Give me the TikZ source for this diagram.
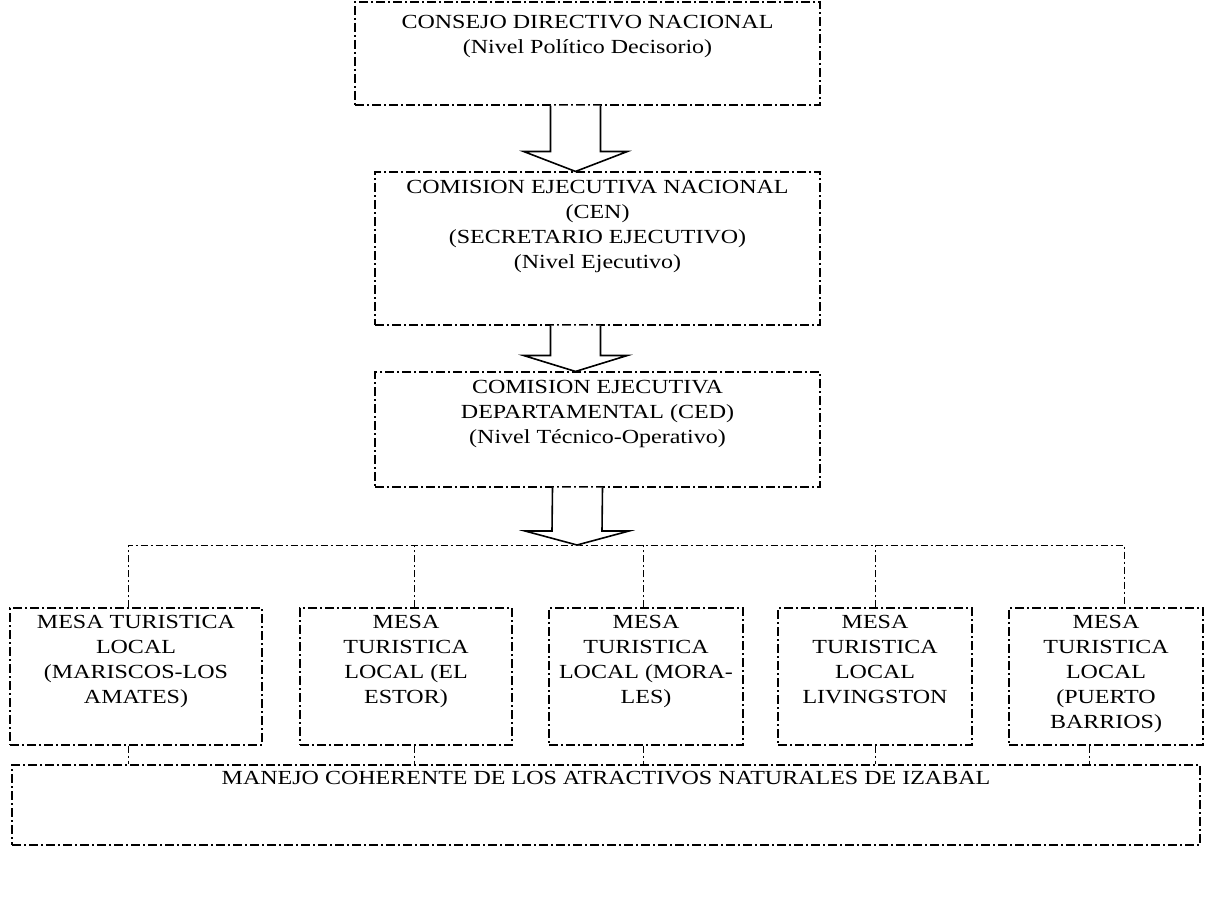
\documentclass[tikz,border=0pt]{standalone}
\usepackage{fontspec}
\setmainfont{Liberation Serif}[FakeStretch=1.2]
\usetikzlibrary{calc}

\begin{document}
\begin{tikzpicture}[x=1pt,y=-1pt,
  every node/.style={font=\fontsize{20}{25}\selectfont},
  dashbox/.style={draw,black,line width=1.1pt,dash pattern=on 9pt off 3pt on 2pt off 3pt,inner sep=0pt},
  link/.style={black,line width=1pt,dash pattern=on 7pt off 3pt on 2pt off 3pt},
  blockarr/.style={draw,black,fill=white,line width=1.6pt,line join=miter},
  boxtext/.style={anchor=north,align=center,inner sep=0pt}]
\def\hw{25}
\def\ww{52}
\useasboundingbox (0,0) rectangle (1215,899);
%niveles
\node [dashbox, minimum width=465pt, minimum height=103pt, name=cdn,
  label={[boxtext,yshift=-14pt]north:{CONSEJO DIRECTIVO NACIONAL\\(Nivel Pol\'{\i}tico Decisorio)}}] at (587.5,53.5){};
\node [dashbox, minimum width=445pt, minimum height=153pt, name=cen,
  label={[boxtext,yshift=-9pt]north:{COMISION EJECUTIVA NACIONAL\\(CEN)\\(SECRETARIO EJECUTIVO)\\(Nivel Ejecutivo)}}] at (597.5,248.5){};
\node [dashbox, minimum width=445pt, minimum height=115pt, name=ced,
  label={[boxtext,yshift=-9pt]north:{COMISION EJECUTIVA\\DEPARTAMENTAL (CED)\\(Nivel T\'ecnico-Operativo)}}] at (597.5,429.5){};
%mesas
\node [dashbox, minimum width=252pt, minimum height=137pt, name=m1,
  label={[boxtext,yshift=-8pt]north:{MESA TURISTICA\\LOCAL\\(MARISCOS-LOS\\AMATES)}}] at (136,676.5){};
\node [dashbox, minimum width=212pt, minimum height=137pt, name=m2,
  label={[boxtext,yshift=-8pt]north:{MESA\\TURISTICA\\LOCAL (EL\\ESTOR)}}] at (406,676.5){};
\node [dashbox, minimum width=194pt, minimum height=137pt, name=m3,
  label={[boxtext,yshift=-8pt]north:{MESA\\TURISTICA\\LOCAL (MORA-\\LES)}}] at (646,676.5){};
\node [dashbox, minimum width=194pt, minimum height=137pt, name=m4,
  label={[boxtext,yshift=-8pt]north:{MESA\\TURISTICA\\LOCAL\\LIVINGSTON}}] at (875,676.5){};
\node [dashbox, minimum width=194pt, minimum height=137pt, name=m5,
  label={[boxtext,yshift=-8pt]north:{MESA\\TURISTICA\\LOCAL\\(PUERTO\\BARRIOS)}}] at (1106,676.5){};
\node [dashbox, minimum width=1188pt, minimum height=80pt, name=mc,
  label={[boxtext,yshift=-7pt]north:{MANEJO COHERENTE DE LOS ATRACTIVOS NATURALES DE IZABAL}}] at (606,805){};
\coordinate (bus) at (577,545);
%flechas
\draw [blockarr] ($(cdn.south)+(-12-\hw,0)$) -- ($(cen.north)+(-22-\hw,-20)$) -- ($(cen.north)+(-22-\ww,-20)$)
  -- ($(cen.north)+(-22,0)$) -- ($(cen.north)+(-22+\ww,-20)$) -- ($(cen.north)+(-22+\hw,-20)$) -- ($(cdn.south)+(-12+\hw,0)$);
\draw [blockarr] ($(cen.south)+(-22-\hw,0)$) -- ($(ced.north)+(-22-\hw,-16)$) -- ($(ced.north)+(-22-\ww,-16)$)
  -- ($(ced.north)+(-22,0)$) -- ($(ced.north)+(-22+\ww,-16)$) -- ($(ced.north)+(-22+\hw,-16)$) -- ($(cen.south)+(-22+\hw,0)$);
\draw [blockarr] ($(ced.south)+(-20-\hw,0)$) -- ($(bus)+(-\hw,-14)$) -- ($(bus)+(-\ww,-14)$)
  -- (bus) -- ($(bus)+(\ww,-14)$) -- ($(bus)+(\hw,-14)$) -- ($(ced.south)+(-20+\hw,0)$);
%conexiones
\draw [link] ([xshift=-8pt]m1.north) |- (bus) -| ([xshift=18pt]m5.north);
\draw [link] ([xshift=8pt]m2.north) -- ([xshift=8pt]m2.north |- bus);
\draw [link] ([xshift=-3pt]m3.north) -- ([xshift=-3pt]m3.north |- bus);
\draw [link] (m4.north) -- (m4.north |- bus);
\draw [link] ([xshift=-8pt]m1.south) -- ([xshift=-8pt]m1.south |- mc.north);
\draw [link] ([xshift=8pt]m2.south) -- ([xshift=8pt]m2.south |- mc.north);
\draw [link] ([xshift=-3pt]m3.south) -- ([xshift=-3pt]m3.south |- mc.north);
\draw [link] (m4.south) -- (m4.south |- mc.north);
\draw [link] ([xshift=-17pt]m5.south) -- ([xshift=-17pt]m5.south |- mc.north);
\end{tikzpicture}
\end{document}
